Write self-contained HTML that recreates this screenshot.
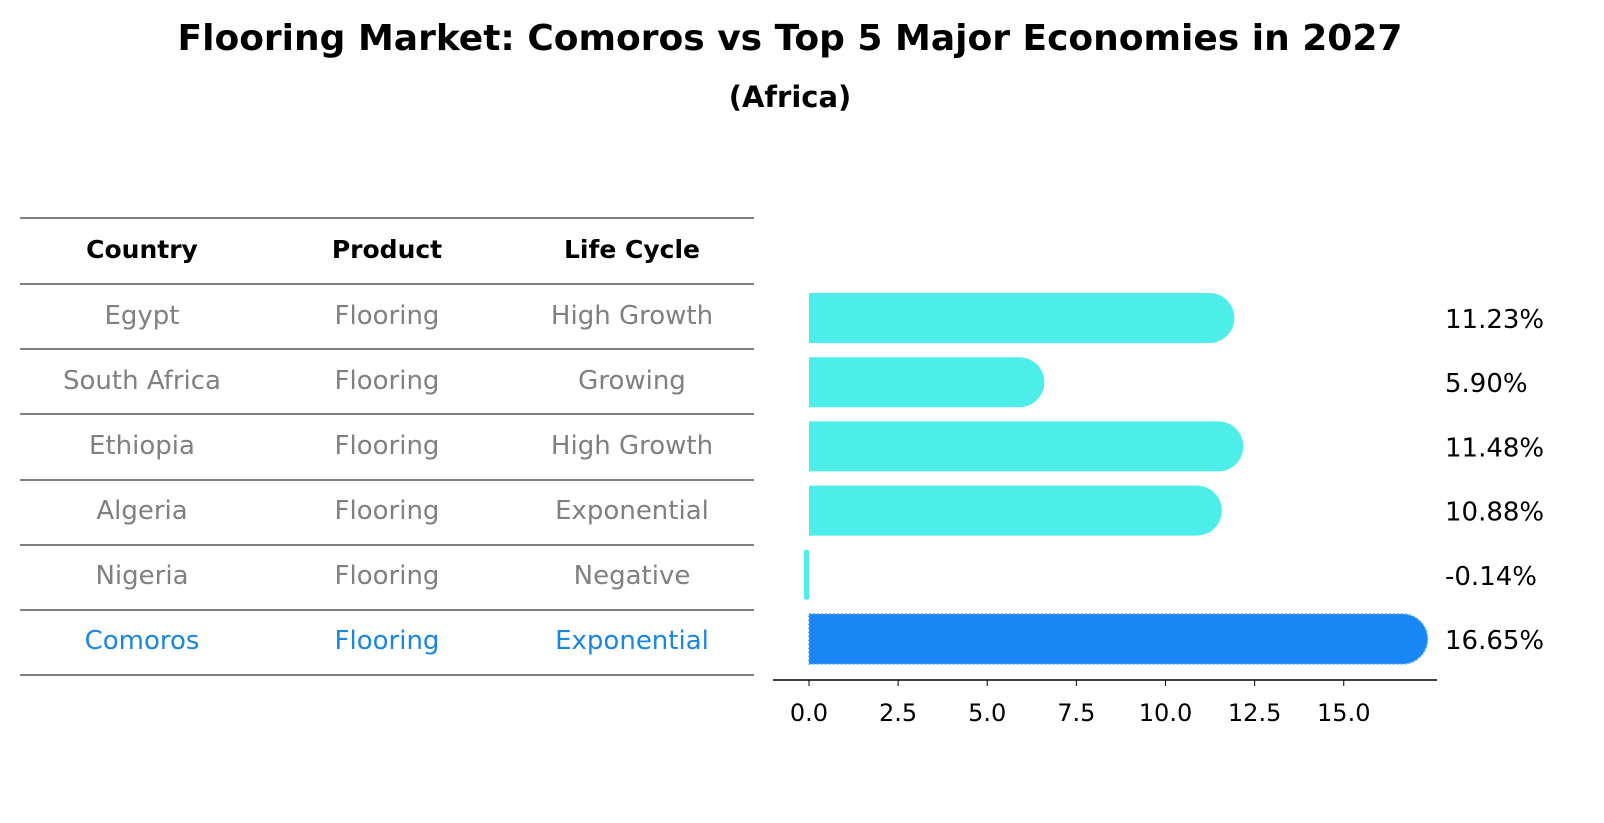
<!DOCTYPE html>
<html><head><meta charset="utf-8"><style>
body{margin:0;background:#fff;font-family:"Liberation Sans","DejaVu Sans",sans-serif;}
#wrap{position:relative;width:1604px;height:823px;overflow:hidden;}
</style></head><body>
<div id="wrap">
<svg width="1604" height="823" xmlns="http://www.w3.org/2000/svg" font-family="DejaVu Sans, Liberation Sans, sans-serif">
<text x="790" y="50" text-anchor="middle" font-size="36" font-weight="bold">Flooring Market: Comoros vs Top 5 Major Economies in 2027</text>
<text x="790" y="107" text-anchor="middle" font-size="29" font-weight="bold">(Africa)</text>
<g id="table"></g>
<g id="bars"></g>
</svg>
</div>
<script>
const countries=["Egypt","South Africa","Ethiopia","Algeria","Nigeria","Comoros"];
const products=["Flooring","Flooring","Flooring","Flooring","Flooring","Flooring"];
const lifeCycles=["High Growth","Growing","High Growth","Exponential","Negative","Exponential"];
const values=[11.23,5.90,11.48,10.88,-0.14,16.65];
const tickValues=[0,2.5,5,7.5,10,12.5,15];
const tickLabels=["0.0","2.5","5.0","7.5","10.0","12.5","15.0"];

const NS="http://www.w3.org/2000/svg";
function mk(tag,attrs,parent){const e=document.createElementNS(NS,tag);for(const k in attrs)e.setAttribute(k,attrs[k]);parent.appendChild(e);return e;}
const table=document.getElementById('table');
const bars=document.getElementById('bars');
const rowY=i=>318+i*64.2;
const x=v=>809+v*35.65;

const lineYs=[218,284];
for(let i=0;i<countries.length;i++)lineYs.push(Math.round(284+(i+1)*65.2));
lineYs.forEach(y=>{
  const l=mk('line',{x1:20,x2:754,y1:y,y2:y,stroke:'#000','stroke-width':1},table);
  
  
});
const colX=[142,387,632];
["Country","Product","Life Cycle"].forEach((h,j)=>{
  const t=mk('text',{x:colX[j],y:258,'text-anchor':'middle','font-size':25,'font-weight':'bold'},table);
  t.textContent=h;
  
  
});
countries.forEach((c,i)=>{
  const y=315+i*65+9;
  const col=i===countries.length-1?'#1a86e0':'#808080';
  [c,products[i],lifeCycles[i]].forEach((s,j)=>{
    const t=mk('text',{x:colX[j],y:y,'text-anchor':'middle','font-size':26,fill:col},table);
    t.textContent=s;
    
    
  });
});

const h=50,r=25;
values.forEach((v,i)=>{
  const cy=rowY(i);
  const last=i===values.length-1;
  const fill=last?'#1a86f5':'#4deeea';
  let el;
  if(v>0.5){
    const x0=x(0),x1=x(v);
    el=mk('path',{d:`M${x0},${cy-h/2} H${x1} A${r},${r} 0 0 1 ${x1},${cy+h/2} H${x0} Z`,fill:fill},bars);
    if(last){el.setAttribute('stroke','#4da6ff');el.setAttribute('stroke-dasharray','2 2');el.setAttribute('stroke-width','1.5');}
  }else{
    const xa=Math.min(x(0),x(v)),xb=Math.max(x(0),x(v));
    el=mk('rect',{x:xa,y:cy-h/2,width:Math.max(xb-xa,3),height:h,rx:2,fill:fill},bars);
  }
  
  
  const t=mk('text',{x:1445,y:cy+10,'font-size':26},bars);
  t.textContent=v.toFixed(2)+'%';
  
  
});
const ax=mk('line',{x1:773,x2:1437,y1:680,y2:680,stroke:'#000','stroke-width':1.5},bars);


tickValues.forEach((v,i)=>{
  const tk=mk('line',{x1:x(v),x2:x(v),y1:680,y2:686,stroke:'#000','stroke-width':1},bars);
  
  
  const t=mk('text',{x:x(v),y:721,'text-anchor':'middle','font-size':24},bars);
  t.textContent=tickLabels[i];
  
  
});
</script>
</body></html>
